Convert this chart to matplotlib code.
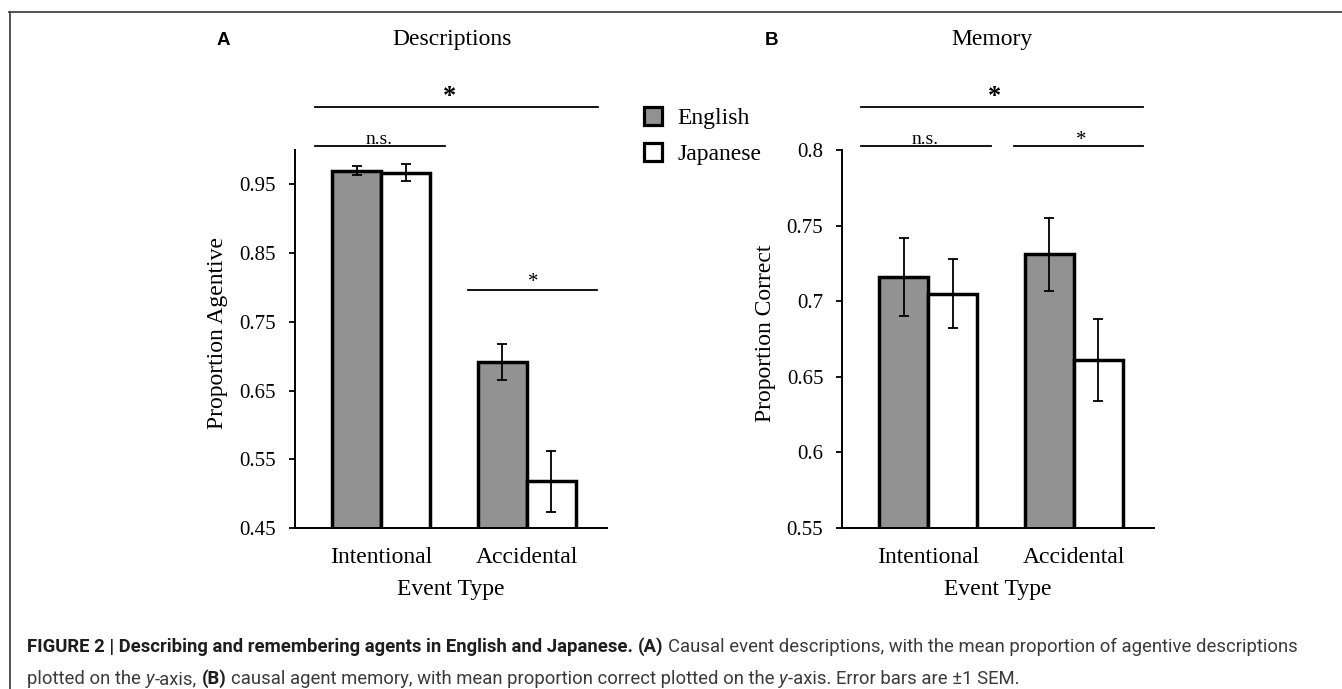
import matplotlib
matplotlib.use('Agg')
import matplotlib.pyplot as plt
from matplotlib.lines import Line2D
from matplotlib.patches import Rectangle

# ---------------- data ----------------
categories = ['Intentional', 'Accidental']
languages = ['English', 'Japanese']

desc_english = [0.970, 0.692]
desc_english_err = [0.007, 0.026]
desc_japanese = [0.967, 0.518]
desc_japanese_err = [0.012, 0.044]

mem_english = [0.716, 0.731]
mem_english_err = [0.0255, 0.024]
mem_japanese = [0.705, 0.661]
mem_japanese_err = [0.023, 0.027]

desc_yticks = [0.45, 0.55, 0.65, 0.75, 0.85, 0.95]
desc_ytick_labels = ['0.45', '0.55', '0.65', '0.75', '0.85', '0.95']
mem_yticks = [0.55, 0.6, 0.65, 0.7, 0.75, 0.8]
mem_ytick_labels = ['0.55', '0.6', '0.65', '0.7', '0.75', '0.8']

# ---------------- figure ----------------
W, H, DPI = 1342, 689, 100
fig = plt.figure(figsize=(W / DPI, H / DPI), dpi=DPI)
fig.patch.set_facecolor('white')

SERIF = 'Liberation Serif'
SANS = 'Liberation Sans'
GRAY = '#929292'


def fx(x):
    return x / W


def fy(y):
    return 1 - y / H


def axes_box(left, top, right, bottom):
    return [fx(left), fy(bottom), (right - left) / W, (bottom - top) / H]


axA = fig.add_axes(axes_box(295, 150, 607, 528))
axB = fig.add_axes(axes_box(842, 150, 1154, 528))

bar_w = 0.336
xpos = list(range(len(categories)))


def draw_panel(ax, eng, eng_err, jap, jap_err, ylim, yticks, ylabels):
    ekw = dict(elinewidth=1.3, capsize=3.5, capthick=1.3, ecolor='black')
    ax.bar([x - bar_w for x in xpos], eng, bar_w, align='edge', color=GRAY,
           edgecolor='black', linewidth=2.5, yerr=eng_err, error_kw=ekw,
           label=languages[0], zorder=2)
    ax.bar(xpos, jap, bar_w, align='edge', color='white',
           edgecolor='black', linewidth=2.5, yerr=jap_err, error_kw=ekw,
           label=languages[1], zorder=2)
    ax.set_xlim(-0.59, 1.55)
    ax.set_ylim(*ylim)
    ax.set_yticks(yticks)
    ax.set_yticklabels(ylabels, fontsize=15, family=SERIF)
    ax.set_xticks(xpos)
    ax.set_xticklabels(categories, fontsize=17, family=SERIF)
    ax.tick_params(axis='y', direction='out', length=4.5, width=1.3, pad=9)
    ax.tick_params(axis='x', length=0, pad=13.5)
    for s in ['top', 'right']:
        ax.spines[s].set_visible(False)
    for s in ['left', 'bottom']:
        ax.spines[s].set_linewidth(1.4)
        ax.spines[s].set_zorder(3)
    ax.set_facecolor('none')


draw_panel(axA, desc_english, desc_english_err, desc_japanese, desc_japanese_err,
           (0.45, 1.0), desc_yticks, desc_ytick_labels)
draw_panel(axB, mem_english, mem_english_err, mem_japanese, mem_japanese_err,
           (0.55, 0.80), mem_yticks, mem_ytick_labels)

# axis labels
for ax in (axA, axB):
    ax.text(0.5, 0, 'Event Type', transform=ax.transAxes, fontsize=17,
            family=SERIF, ha='center', va='baseline')
for ax in (axA, axB):
    pass
fig.text(fx(218), fy(333), 'Proportion Agentive', rotation=90, fontsize=17,
         family=SERIF, ha='center', va='center')
fig.text(fx(766), fy(333), 'Proportion Correct', rotation=90, fontsize=17,
         family=SERIF, ha='center', va='center')

# fix Event Type baseline at y=595 px
for t in axA.texts + axB.texts:
    t.set_transform(fig.transFigure)
axA.texts[0].set_position((fx(451), fy(595)))
axB.texts[0].set_position((fx(998), fy(595)))

# titles and panel letters
fig.text(fx(452), fy(45), 'Descriptions', fontsize=17, family=SERIF,
         ha='center', va='baseline')
fig.text(fx(992), fy(45), 'Memory', fontsize=17, family=SERIF,
         ha='center', va='baseline')
fig.text(fx(217), fy(45), 'A', fontsize=13.5, family=SANS, weight='bold',
         ha='left', va='baseline')
fig.text(fx(765), fy(45), 'B', fontsize=13.5, family=SANS, weight='bold',
         ha='left', va='baseline')

# legend
for i, (lab, fc) in enumerate(zip(languages, [GRAY, 'white'])):
    ytop = 107 + i * 36
    fig.add_artist(Rectangle((fx(644), fy(ytop + 18)), 18 / W, 18 / H,
                             transform=fig.transFigure, facecolor=fc,
                             edgecolor='black', linewidth=2.3))
    fig.text(fx(677), fy(ytop + 17), lab, fontsize=17, family=SERIF,
             ha='left', va='baseline')


# significance brackets
def hline(x0, x1, y):
    fig.add_artist(Line2D([fx(x0), fx(x1)], [fy(y), fy(y)],
                          transform=fig.transFigure, color='black', lw=1.3))


hline(315, 598, 107)
fig.text(fx(450), fy(103), '*', fontsize=19, family=SERIF, weight='bold',
         ha='center', va='baseline')
hline(315, 445, 146)
fig.text(fx(379), fy(144), 'n.s.', fontsize=14, family=SERIF,
         ha='center', va='baseline')
hline(468, 597, 290)
fig.text(fx(533), fy(287), '*', fontsize=15, family=SERIF,
         ha='center', va='baseline')

hline(861, 1143, 107)
fig.text(fx(995), fy(103), '*', fontsize=19, family=SERIF, weight='bold',
         ha='center', va='baseline')
hline(861, 991, 146)
fig.text(fx(925), fy(144), 'n.s.', fontsize=14, family=SERIF,
         ha='center', va='baseline')
hline(1014, 1143, 146)
fig.text(fx(1081), fy(145), '*', fontsize=15, family=SERIF,
         ha='center', va='baseline')

# frame lines
fig.add_artist(Line2D([fx(9), 1.0], [fy(11.5), fy(11.5)],
                      transform=fig.transFigure, color='#444444', lw=1.3))
fig.add_artist(Line2D([fx(9.5), fx(9.5)], [fy(11.5), 0.0],
                      transform=fig.transFigure, color='#444444', lw=1.3))

# ---------------- caption (rich text) ----------------
renderer = fig.canvas.get_renderer()
CAP = 'Roboto'
REG = dict(color='#3a3a3a')
BOLD = dict(color='#1e1e1e', weight='bold')
ITAL = dict(color='#3a3a3a', style='italic')

line1 = [('FIGURE 2 | Describing and remembering agents in English and Japanese.', BOLD, True),
         ('(A)', BOLD, True),
         ('Causal event descriptions, with the mean proportion of agentive descriptions', REG, False)]
line2 = [('plotted on the', REG, True),
         ('y', ITAL, False),
         ('-axis,', REG, True),
         ('(B)', BOLD, True),
         ('causal agent memory, with mean proportion correct plotted on the', REG, True),
         ('y', ITAL, False),
         ('-axis. Error bars are \u00b11 SEM.', REG, False)]


def width_of(s, size, **kw):
    t = fig.text(0, 0, s, fontsize=size, family=CAP, **kw)
    w = t.get_window_extent(renderer).width
    t.remove()
    return w


def layout(pieces, x0, ybase, size, keep=True):
    sp = width_of('a a', size) - width_of('aa', size)
    x = x0
    made = []
    for s, kw, space_after in pieces:
        t = fig.text(x / W, fy(ybase), s, fontsize=size, family=CAP,
                     ha='left', va='baseline', **kw)
        bb = t.get_window_extent(renderer)
        x = bb.x1 + (sp if space_after else 0.8)
        made.append(t)
    if not keep:
        for t in made:
            t.remove()
    return x


base_size = 12.0
end = layout(line1, 27, 652, base_size, keep=False)
size = base_size * (1292 - 27) / (end - 27)
layout(line1, 27, 652, size)
layout(line2, 27, 684, size)

fig.savefig('out.png', dpi=DPI)
